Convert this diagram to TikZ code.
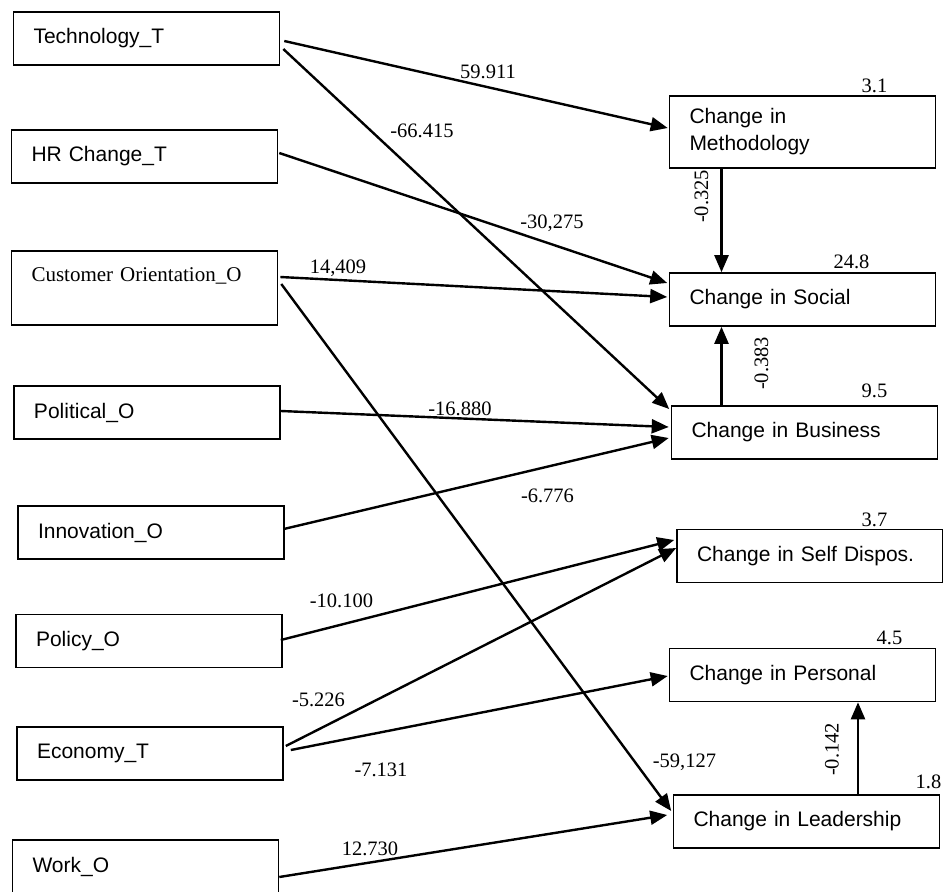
\documentclass[tikz,border=0pt]{standalone}
\usepackage{fontspec}
\setmainfont{Liberation Serif}
\newfontfamily\arialfont{Liberation Sans}
\usetikzlibrary{arrows.meta}
\tikzset{pathmodel/.style={x=1pt,y=-1pt,font=\fontsize{20.5}{25}\selectfont},
  var/.style={draw,line width=1.6pt,minimum width=266pt,minimum height=53pt,text width=226pt,
    inner xsep=20pt,inner ysep=0pt,align=left,font=\arialfont\fontsize{21}{27}\selectfont},
  eff/.style={-{Triangle[length=17pt,width=14pt]},line width=2.4pt},
  coef/.style={inner sep=0pt,anchor=base}}

\begin{document}
\begin{tikzpicture}[pathmodel]
    \useasboundingbox (0,0) rectangle (943,892);
    % predictors
    \node[var] (tech)   at (146.5,38.5)  {Technology\_T};
    \node[var] (hr)     at (144.5,156.5) {HR Change\_T};
    \node[var,minimum height=74pt,font=\rmfamily\fontsize{21}{27}\selectfont] (cust) at (144.5,288)
      {Customer Orientation\_O\\\mbox{}};
    \node[var] (pol)    at (147,412.5)   {Political\_O};
    \node[var] (inno)   at (151,532.5)   {Innovation\_O};
    \node[var] (policy) at (149,641)     {Policy\_O};
    \node[var] (econ)   at (150,753.5)   {Economy\_T};
    \node[var] (work)   at (145.5,866.5) {Work\_O};
    % outcomes
    \node[var,minimum height=72pt] (meth) at (802.5,132) {Change in\\Methodology};
    \node[var] (social) at (802.5,299.5) {Change in Social};
    \node[var] (bus)    at (804.5,432.5) {Change in Business};
    \node[var] (self)   at (810,556)     {Change in Self Dispos.};
    \node[var] (pers)   at (802.5,675)   {Change in Personal};
    \node[var] (lead)   at (806.5,821.5) {Change in Leadership};
    % paths
    \draw[eff] ([xshift=4pt,yshift=-2.5pt]tech.east) -- ([xshift=-1pt,yshift=4pt]meth.west);
    \draw[eff] ([xshift=3pt,yshift=-10.5pt]tech.east) -- ([xshift=-1.5pt,yshift=23.5pt]bus.west);
    \draw[eff] ([xshift=1pt,yshift=3.5pt]hr.east) -- ([xshift=-1.5pt,yshift=16.5pt]social.west);
    \draw[eff] ([xshift=2pt,yshift=11pt]cust.east) -- ([xshift=-1.5pt,yshift=2.5pt]social.west);
    \draw[eff] ([xshift=3pt,yshift=4pt]cust.east) -- ([xshift=-1.5pt,yshift=10.5pt]lead.west);
    \draw[eff] ([yshift=1.5pt]pol.east) -- ([xshift=-2pt,yshift=5.5pt]bus.west);
    \draw[eff] ([xshift=-1pt,yshift=3.5pt]inno.east) -- ([xshift=-2pt,yshift=-5.5pt]bus.west);
    \draw[eff] ([xshift=-2pt,yshift=1pt]policy.east) -- ([xshift=-2pt,yshift=16pt]self.west);
    \draw[eff] ([xshift=2pt,yshift=7.5pt]econ.east) -- ([yshift=8pt]self.west);
    \draw[eff] ([xshift=7pt,yshift=3.5pt]econ.east) -- ([xshift=-1pt,yshift=-1pt]pers.west);
    \draw[eff] ([yshift=-10.5pt]work.east) -- ([xshift=-5.5pt,yshift=6.5pt]lead.west);
    \draw[eff] ([xshift=-81pt]meth.south) -- ([xshift=-81pt]social.north);
    \draw[eff] ([xshift=-83pt]bus.north) -- ([xshift=-83pt]bus.north |- social.south);
    \draw[eff] ([xshift=51.5pt]lead.north) -- ([xshift=51.5pt]lead.north |- pers.south);
    % coefficients
    \node[coef] (c1)  at (488,78)    {59.911};
    \node[coef] (c2)  at (422,137)   {-66.415};
    \node[coef] (c3)  at (552,228)   {-30,275};
    \node[coef] (c4)  at (338,273)   {14,409};
    \node[coef] (c5)  at (460,415)   {-16.880};
    \node[coef] (c6)  at (547.5,502) {-6.776};
    \node[coef] (c7)  at (341.5,607) {-10.100};
    \node[coef] (c8)  at (318.5,706) {-5.226};
    \node[coef] (c9)  at (381,776)   {-7.131};
    \node[coef] (c10) at (370,855)   {12.730};
    \node[coef] (c11) at (684.5,767) {-59,127};
    \node[inner sep=0pt,rotate=90] (r1) at (701.5,196.5) {-0.325};
    \node[inner sep=0pt,rotate=90] (r2) at (761.5,363.5) {-0.383};
    \node[inner sep=0pt,rotate=90] (r3) at (832,749.5)   {-0.142};
    % explained variance
    \node[coef] (e1) at (874.5,92)  {3.1};
    \node[coef] (e2) at (851.5,268) {24.8};
    \node[coef] (e3) at (874.5,397) {9.5};
    \node[coef] (e4) at (874.5,526) {3.7};
    \node[coef] (e5) at (889.5,644) {4.5};
    \node[coef] (e6) at (928.5,788) {1.8};
\end{tikzpicture}
\end{document}
